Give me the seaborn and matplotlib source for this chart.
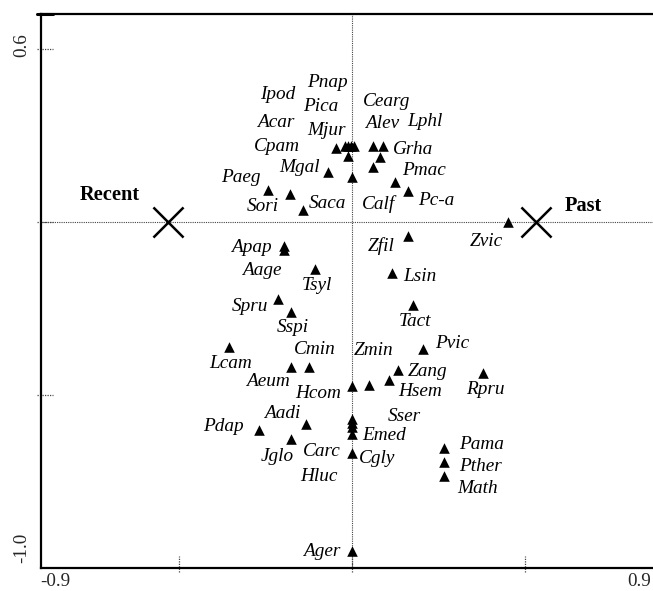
import matplotlib
matplotlib.use("Agg")
import matplotlib.pyplot as plt
import matplotlib.transforms as mtransforms
import pandas as pd
import seaborn as sns

# Species scores on the first two ordination axes
species = [
    "Paeg", "Sori", "Saca", "Mgal", "Cpam", "Acar", "Mjur", "Ipod", "Pica", "Pnap",
    "Calf", "Cearg", "Alev", "Lphl", "Grha", "Pmac", "Pc-a", "Zvic", "Zfil", "Apap",
    "Aage", "Tsyl", "Lsin", "Spru", "Sspi", "Tact", "Lcam", "Pvic", "Aeum", "Cmin",
    "Zang", "Hsem", "Zmin", "Hcom", "Rpru", "Aadi", "Pdap", "Jglo", "Sser", "Carc",
    "Emed", "Cgly", "Hluc", "Pama", "Pther", "Math", "Ager",
]
axis1 = [
    -0.243, -0.179, -0.142, -0.069, -0.046, -0.020, -0.012, -0.012, -0.003, 0.006,
    0.000, 0.061, 0.090, 0.081, 0.061, 0.124, 0.162, 0.451, 0.162, -0.197,
    -0.197, -0.107, 0.116, -0.214, -0.176, 0.176, -0.355, 0.205, -0.176, -0.124,
    0.133, 0.107, 0.049, 0.000, 0.379, -0.133, -0.269, -0.176, 0.000, 0.000,
    0.000, 0.000, 0.000, 0.266, 0.266, 0.266, 0.000,
]
axis2 = [
    0.092, 0.081, 0.035, 0.145, 0.214, 0.220, 0.191, 0.220, 0.220, 0.220,
    0.130, 0.220, 0.220, 0.188, 0.159, 0.116, 0.090, 0.000, -0.040, -0.069,
    -0.082, -0.136, -0.147, -0.223, -0.259, -0.241, -0.361, -0.367, -0.419, -0.419,
    -0.428, -0.457, -0.471, -0.474, -0.436, -0.584, -0.601, -0.627, -0.569, -0.581,
    -0.592, -0.613, -0.668, -0.653, -0.694, -0.734, -0.951,
]

# Sample (period) centroids
periods = ["Recent", "Past"]
period_axis1 = [-0.532, 0.532]
period_axis2 = [0.0, 0.0]

# Axis range labels
x_range_labels = ["-0.9", "0.9"]
y_range_labels = ["0.6", "-1.0"]

# Label placement relative to each triangle, in pixels (dx right, dy down)
label_offsets = {
    "Paeg": (-27, -13), "Sori": (-27, 13), "Saca": (25, -6), "Mgal": (-29, -4),
    "Cpam": (-59, -1), "Acar": (-69, -23), "Mjur": (-21, -25), "Ipod": (-70, -51),
    "Pica": (-30, -39), "Pnap": (-27, -63), "Calf": (27, 27), "Cearg": (14, -44),
    "Alev": (-1, -22), "Lphl": (45, -35), "Grha": (40, -17), "Pmac": (29, -11),
    "Pc-a": (28, 10), "Zvic": (-22, 20), "Zfil": (-27, 10), "Apap": (-32, 2),
    "Aage": (-22, 20), "Tsyl": (2, 16), "Lsin": (28, 4), "Spru": (-28, 7),
    "Sspi": (2, 16), "Tact": (2, 16), "Lcam": (1, 17), "Pvic": (29, -5),
    "Aeum": (-23, 15), "Cmin": (6, -17), "Zang": (30, 1), "Hsem": (31, 11),
    "Zmin": (5, -34), "Hcom": (-34, 7), "Rpru": (2, 17), "Aadi": (-24, -11),
    "Pdap": (-36, -3), "Jglo": (-14, 18), "Sser": (52, -2), "Carc": (-30, 28),
    "Emed": (32, 9), "Cgly": (25, 24), "Hluc": (-33, 23), "Pama": (38, -3),
    "Pther": (36, 4), "Math": (34, 13), "Ager": (-30, 0),
}

df = pd.DataFrame({"species": species, "axis1": axis1, "axis2": axis2})
centroids = pd.DataFrame({"period": periods, "axis1": period_axis1, "axis2": period_axis2})

sns.set_style("white")
plt.rcParams["font.family"] = ["Liberation Serif", "DejaVu Serif"]

W, H = 653, 591
fig = plt.figure(figsize=(W / 100, H / 100), dpi=100)

# axes frame in pixels: x -0.9..0.9, y -1.0..0.6, same unit length on both axes
left_px, right_px, top_px, bottom_px = 40.6, 663.4, 14.4, 568.0
ax = fig.add_axes([left_px / W, 1 - bottom_px / H,
                   (right_px - left_px) / W, (bottom_px - top_px) / H])
ax.set_xlim(-0.9, 0.9)
ax.set_ylim(-1.0, 0.6)

for side in ["top", "left", "bottom"]:
    ax.spines[side].set_color("black")
    ax.spines[side].set_linewidth(1.6)
ax.spines["right"].set_visible(False)
ax.set_xticks([])
ax.set_yticks([])

dots = (0, (1, 1))
ax.axhline(0, color="#444444", lw=0.8, ls=dots, zorder=1)
ax.axvline(0, color="#444444", lw=0.8, ls=dots, zorder=1)

# short dotted ticks crossing the axes
ax_w = right_px - left_px
ax_h = bottom_px - top_px
tx = mtransforms.blended_transform_factory(ax.transData, ax.transAxes)
ty = mtransforms.blended_transform_factory(ax.transAxes, ax.transData)
for xv in [-0.5, 0.0, 0.5]:
    ax.plot([xv, xv], [-4 / ax_h, 12 / ax_h], transform=tx, color="#444444",
            lw=0.9, ls=dots, clip_on=False)
for yv in [0.5, 0.0, -0.5]:
    ax.plot([-4 / ax_w, 12 / ax_w], [yv, yv], transform=ty, color="#444444",
            lw=0.9, ls=dots, clip_on=False)
ax.plot([-4 / ax_w, 12 / ax_w], [0.6, 0.6], transform=ty, color="black",
        lw=2.2, clip_on=False)

# species triangles
sns.scatterplot(data=df, x="axis1", y="axis2", marker="^", s=58, color="black",
                edgecolor="black", linewidth=0, ax=ax, zorder=3, legend=False)

for name, xv, yv in zip(df["species"], df["axis1"], df["axis2"]):
    dx, dy = label_offsets[name]
    ax.annotate(name, (xv, yv), xytext=(dx, -dy), textcoords="offset pixels",
                ha="center", va="center", fontstyle="italic", fontsize=13.9,
                color="black", zorder=4)

# period centroids
sns.scatterplot(data=centroids, x="axis1", y="axis2", marker="x", s=470,
                color="black", linewidth=1.8, ax=ax, zorder=3, legend=False)
period_offsets = {"Recent": (-58, -27), "Past": (47, -16)}
for name, xv, yv in zip(centroids["period"], centroids["axis1"], centroids["axis2"]):
    dx, dy = period_offsets[name]
    ax.annotate(name, (xv, yv), xytext=(dx, -dy), textcoords="offset pixels",
                ha="center", va="center", fontweight="bold", fontsize=14.7,
                color="black", zorder=4)
ax.set_xlabel("")
ax.set_ylabel("")


def fpx(x, y):
    return x / W, 1 - y / H


fig.text(*fpx(40, 590), x_range_labels[0], ha="left", va="bottom", fontsize=13.7)
fig.text(*fpx(651, 590), x_range_labels[1], ha="right", va="bottom", fontsize=13.7)
fig.text(*fpx(22, 45), y_range_labels[0], ha="center", va="center",
         rotation=90, fontsize=13.7)
fig.text(*fpx(22, 548), y_range_labels[1], ha="center", va="center",
         rotation=90, fontsize=13.7)

fig.savefig("out.png", dpi=100)
